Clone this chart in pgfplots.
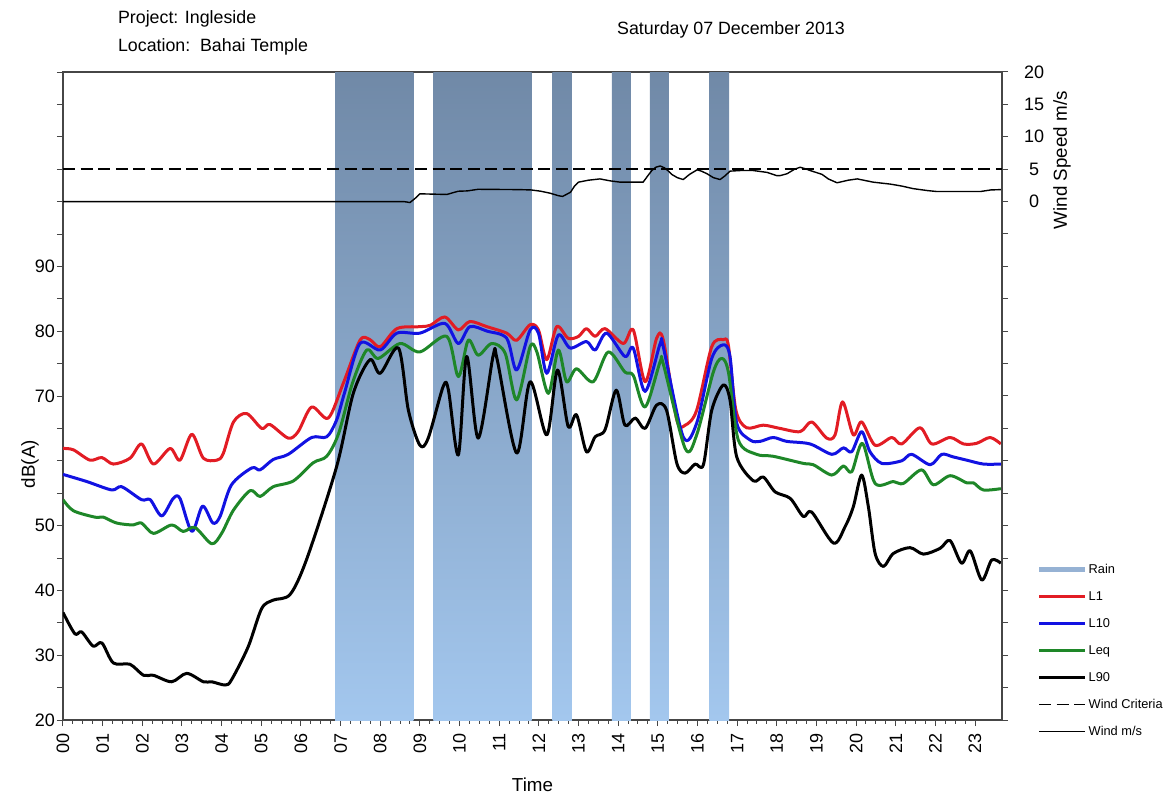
\documentclass[border=0pt]{standalone}
\usepackage{fontspec}
\setmainfont{Liberation Sans}
\usepackage{pgfplots}
\pgfplotsset{compat=1.18}

\definecolor{cL1}{RGB}{226,28,36}
\definecolor{cL10}{RGB}{18,18,226}
\definecolor{cLeq}{RGB}{30,135,40}
\definecolor{rainTop}{RGB}{112,137,167}
\definecolor{rainBot}{RGB}{163,199,238}
\definecolor{rainLeg}{RGB}{150,178,212}
\definecolor{frame}{RGB}{70,70,70}

\newcommand{\tickfont}{\fontsize{9.0}{10}\selectfont}
\newcommand{\labfont}{\fontsize{9.4}{10}\selectfont}

\begin{document}
\begin{tikzpicture}
\useasboundingbox (-31.5pt,-39.5pt) rectangle (554pt,360pt);
\begin{axis}[
  at={(0,0)}, anchor=south west,
  scale only axis, width=469.5pt, height=324pt,
  xmin=0, xmax=23.68, ymin=20, ymax=120,
  axis line style={line width=0.6pt, color=frame},
  xtick={0,1,...,23},
  xticklabels={00,01,02,03,04,05,06,07,08,09,10,11,12,13,14,15,16,17,18,19,20,21,22,23},
  minor x tick num=3,
  ytick={20,25,...,120},
  yticklabels={20,,30,,40,,50,,,,70,,80,,90,,,,,,},
  tick align=outside, xtick pos=bottom, ytick pos=left,
  major tick length=3pt, minor tick length=1.8pt,
  tick style={color=frame, line width=0.5pt},
  xticklabel style={rotate=90, anchor=east, font=\tickfont},
  yticklabel style={font=\tickfont, xshift=2.5pt},
  ylabel={dB(A)}, ylabel style={at={(-0.035,0.395)}, anchor=center, font=\labfont},
  xlabel={Time}, xlabel style={at={(0.5,-0.1)}, anchor=center, font=\labfont},
  every axis plot/.append style={line join=round},
]
% Rain periods
\addplot[draw=none, top color=rainTop, bottom color=rainBot, forget plot] coordinates {(6.86,20) (6.86,120) (8.835,120) (8.835,20)} -- cycle;
\addplot[draw=none, top color=rainTop, bottom color=rainBot, forget plot] coordinates {(9.34,20) (9.34,120) (11.82,120) (11.82,20)} -- cycle;
\addplot[draw=none, top color=rainTop, bottom color=rainBot, forget plot] coordinates {(12.34,20) (12.34,120) (12.83,120) (12.83,20)} -- cycle;
\addplot[draw=none, top color=rainTop, bottom color=rainBot, forget plot] coordinates {(13.84,20) (13.84,120) (14.32,120) (14.32,20)} -- cycle;
\addplot[draw=none, top color=rainTop, bottom color=rainBot, forget plot] coordinates {(14.8,20) (14.8,120) (15.28,120) (15.28,20)} -- cycle;
\addplot[draw=none, top color=rainTop, bottom color=rainBot, forget plot] coordinates {(16.3,20) (16.3,120) (16.8,120) (16.8,20)} -- cycle;

% L1
\addplot[cL1, line width=1.5pt, smooth, tension=0.5] coordinates {
(0,61.9) (0.26,61.7) (0.68,60.1) (0.98,60.5) (1.27,59.5) (1.69,60.4) (1.98,62.6) (2.28,59.5)
(2.70,61.9) (2.95,60.1) (3.25,64.1) (3.54,60.4) (3.88,60.1) (4.04,61.1) (4.30,66.0) (4.63,67.3)
(5.01,65.0) (5.22,65.6) (5.68,63.5) (5.93,64.5) (6.27,68.3) (6.69,66.6) (7.07,72.0) (7.49,78.6)
(7.74,78.7) (8.0,77.6) (8.42,80.4) (9.0,80.7) (9.26,80.9) (9.63,82.2) (9.97,80.2) (10.26,81.5)
(10.69,80.7) (11.19,79.7) (11.44,78.6) (11.78,81.0) (11.99,80.2) (12.2,75.6) (12.45,80.7) (12.74,78.9)
(13.0,79.2) (13.2,80.4) (13.42,79.2) (13.67,80.4) (14.13,78.1) (14.38,80.2) (14.68,72.2) (14.97,78.9)
(15.14,78.6) (15.48,66.3) (15.69,65.5) (15.98,67.8) (16.36,77.6) (16.65,78.7) (16.78,77.8) (16.97,67.8)
(17.24,65.1) (17.66,65.5) (18.08,65.0) (18.59,64.5) (18.88,66.0) (19.26,63.5) (19.47,64.0) (19.66,69.1)
(19.93,64.0) (20.14,66.0) (20.48,62.4) (20.9,63.6) (21.15,62.6) (21.61,65.1) (21.91,62.6) (22.37,63.6)
(22.71,62.6) (23.04,62.7) (23.38,63.6) (23.65,62.6)
};
% L10
\addplot[cL10, line width=1.5pt, smooth, tension=0.5] coordinates {
(0,57.9) (0.6,56.8) (1.23,55.5) (1.48,56.0) (1.98,54.0) (2.2,54.0) (2.49,51.5) (2.78,54.2)
(2.95,54.2) (3.25,49.1) (3.52,53.0) (3.78,50.4) (3.96,51.4) (4.25,56.3) (4.76,58.9) (4.97,58.6)
(5.3,60.2) (5.68,61.0) (6.27,63.6) (6.65,63.7) (6.9,66.3) (7.1,70.5) (7.49,78.1) (8.0,77.1)
(8.42,79.7) (9.0,79.7) (9.63,81.2) (9.97,78.1) (10.26,80.7) (10.7,80.0) (11.19,78.9) (11.44,74.0)
(11.78,80.2) (11.99,79.7) (12.2,73.5) (12.49,79.4) (12.79,77.4) (13.2,78.4) (13.42,77.1) (13.71,79.7)
(14.17,76.1) (14.38,77.4) (14.68,70.7) (15.06,78.1) (15.14,77.5) (15.64,63.7) (15.98,65.8) (16.36,75.8)
(16.65,77.9) (16.82,76.1) (16.99,65.8) (17.33,63.2) (17.58,63.0) (17.91,63.6) (18.25,63.0) (18.84,62.6)
(19.39,61.0) (19.68,62.0) (19.89,61.4) (20.14,64.5) (20.35,61.4) (20.65,59.6) (21.15,60.0) (21.4,61.0)
(21.87,59.4) (22.16,61.0) (22.45,60.6) (22.79,60.1) (23.21,59.5) (23.65,59.5)
};
% Leq
\addplot[cLeq, line width=1.5pt, smooth, tension=0.5] coordinates {
(0,54.0) (0.26,52.3) (0.81,51.3) (1.02,51.3) (1.35,50.4) (1.77,50.1) (1.98,50.4) (2.28,48.8)
(2.74,50.1) (3.03,49.1) (3.33,49.7) (3.75,47.2) (4.0,48.8) (4.3,52.4) (4.72,55.4) (4.97,54.5)
(5.3,56.0) (5.81,56.9) (6.31,59.7) (6.65,60.7) (6.95,64.2) (7.3,72.0) (7.66,77.1) (7.95,75.8)
(8.5,78.1) (9.0,76.8) (9.68,79.2) (9.97,73.0) (10.22,78.6) (10.47,76.3) (10.81,78.1) (11.15,76.6)
(11.44,69.4) (11.78,77.6) (11.95,76.8) (12.24,70.4) (12.49,77.1) (12.7,72.2) (12.95,74.2) (13.37,72.2)
(13.75,76.8) (14.17,73.7) (14.38,73.2) (14.68,68.3) (15.06,75.3) (15.14,74.9) (15.69,61.9) (15.98,64.0)
(16.4,73.7) (16.61,75.8) (16.78,73.7) (17.03,63.2) (17.49,61.0) (17.91,60.7) (18.67,59.6) (18.92,59.4)
(19.39,57.8) (19.68,59.2) (19.89,58.3) (20.16,62.7) (20.48,56.5) (20.94,56.8) (21.19,56.5) (21.65,58.6)
(21.95,56.3) (22.37,57.7) (22.79,56.6) (22.96,56.6) (23.21,55.5) (23.65,55.7)
};
% L90
\addplot[black, line width=1.5pt, smooth, tension=0.5] coordinates {
(0,36.6) (0.3,33.3) (0.47,33.6) (0.76,31.4) (0.98,31.9) (1.27,28.8) (1.69,28.6) (2.03,26.9)
(2.28,26.9) (2.74,25.9) (3.12,27.2) (3.54,25.9) (3.75,25.9) (4.09,25.4) (4.25,26.2) (4.67,31.3)
(5.01,37.2) (5.3,38.5) (5.73,39.4) (6.15,44.9) (6.9,59.1) (7.32,70.4) (7.74,75.6) (8.0,73.5)
(8.46,77.4) (8.71,67.8) (9.0,62.4) (9.21,63.5) (9.59,71.5) (9.72,70.9) (9.97,60.9) (10.18,76.1)
(10.47,63.5) (10.85,76.3) (10.95,75.6) (11.44,61.2) (11.78,72.2) (12.2,64.0) (12.47,74.0) (12.74,65.3)
(12.95,67.1) (13.2,61.4) (13.42,63.7) (13.67,64.8) (13.95,70.9) (14.17,65.5) (14.43,66.6) (14.68,65.0)
(14.97,68.6) (15.22,67.8) (15.48,59.6) (15.69,58.1) (15.94,59.5) (16.15,59.4) (16.36,67.8) (16.65,71.7)
(16.82,69.4) (16.99,60.6) (17.41,56.9) (17.66,57.5) (17.96,55.2) (18.34,54.2) (18.67,51.4) (18.88,52.1)
(19.43,47.3) (19.72,49.8) (19.93,52.9) (20.14,57.8) (20.31,52.9) (20.48,45.7) (20.69,43.7) (20.94,45.7)
(21.36,46.6) (21.7,45.6) (22.12,46.5) (22.37,47.7) (22.66,44.2) (22.88,46.1) (23.17,41.6) (23.42,44.7)
(23.65,44.2)
};
\end{axis}

\begin{axis}[
  at={(0,0)}, anchor=south west,
  scale only axis, width=469.5pt, height=324pt,
  xmin=0, xmax=23.68, ymin=-80, ymax=20,
  axis x line=none, axis y line*=right,
  axis line style={line width=0.6pt, color=frame},
  ytick={-80,-75,...,20},
  yticklabels={,,,,,,,,,,,,,,,,0,5,10,15,20},
  tick align=outside,
  major tick length=3pt,
  tick style={color=frame, line width=0.5pt},
  yticklabel style={anchor=center, xshift=13pt, font=\tickfont},
  ylabel={Wind Speed m/s}, ylabel style={at={(1.064,0.864)}, anchor=center, font=\labfont},
  legend style={at={(1.0363,0.243)}, anchor=north west, draw=none, fill=none,
    inner sep=0pt, font=\fontsize{6.4}{7}\selectfont, row sep=6.7pt,
    nodes={inner sep=0.5pt, text height=4.6pt, text depth=1.2pt}},
  legend cell align=left,
  legend image code/.code={\draw[#1] (0pt,0pt) -- (23pt,0pt);},
]
\addlegendimage{rainLeg, line width=2.6pt}
\addlegendentry{Rain}
\addlegendimage{cL1, line width=1.5pt}
\addlegendentry{L1}
\addlegendimage{cL10, line width=1.5pt}
\addlegendentry{L10}
\addlegendimage{cLeq, line width=1.5pt}
\addlegendentry{Leq}
\addlegendimage{black, line width=1.5pt}
\addlegendentry{L90}
\addplot[black, line width=0.7pt, dash pattern=on 6pt off 2.8pt] coordinates {(0,5) (23.68,5)};
\addlegendentry{Wind Criteria}
\addplot[black, line width=0.7pt, line join=round] coordinates {
(0,0) (8.6,0) (8.75,-0.15) (8.9,0.6) (9.0,1.2) (9.68,1.1) (9.85,1.4) (9.97,1.6) (10.2,1.65) (10.47,1.9) (11.5,1.85)
(11.8,1.8) (12.05,1.6) (12.28,1.3) (12.5,0.9) (12.6,0.8) (12.8,1.45) (12.9,2.4) (13.0,3.0) (13.25,3.3) (13.54,3.5) (13.8,3.2) (14.05,3.0) (14.63,3.0)
(14.75,4.0) (14.85,4.8) (14.95,5.3) (15.06,5.5) (15.17,5.2) (15.25,4.8) (15.35,4.2) (15.49,3.7) (15.64,3.4) (15.8,4.2) (15.99,4.9) (16.1,4.7) (16.24,4.3) (16.4,3.7) (16.57,3.4)
(16.7,4.0) (16.82,4.7) (17.1,4.8) (17.4,4.8) (17.76,4.5) (18.0,4.0) (18.08,4.0) (18.26,4.3) (18.45,5.0) (18.59,5.3) (18.7,5.1) (18.84,4.8) (19.14,4.2)
(19.3,3.5) (19.52,2.9) (19.8,3.3) (20.03,3.5) (20.43,3.0) (20.86,2.7) (21.15,2.4) (21.44,2.0) (21.8,1.7) (22.04,1.55) (23.13,1.55) (23.4,1.8) (23.65,1.85)
};
\addlegendentry{Wind m/s}
\end{axis}

\node[anchor=base west, font=\fontsize{8.9}{10}\selectfont] at (24pt,348pt) {Project: Ingleside};
\node[anchor=base west, font=\fontsize{8.9}{10}\selectfont] at (24pt,334pt) {Location:\hspace{0.55em}Bahai Temple};
\node[anchor=base, font=\fontsize{8.9}{10}\selectfont] at (334pt,342.5pt) {Saturday 07 December 2013};
\end{tikzpicture}
\end{document}
